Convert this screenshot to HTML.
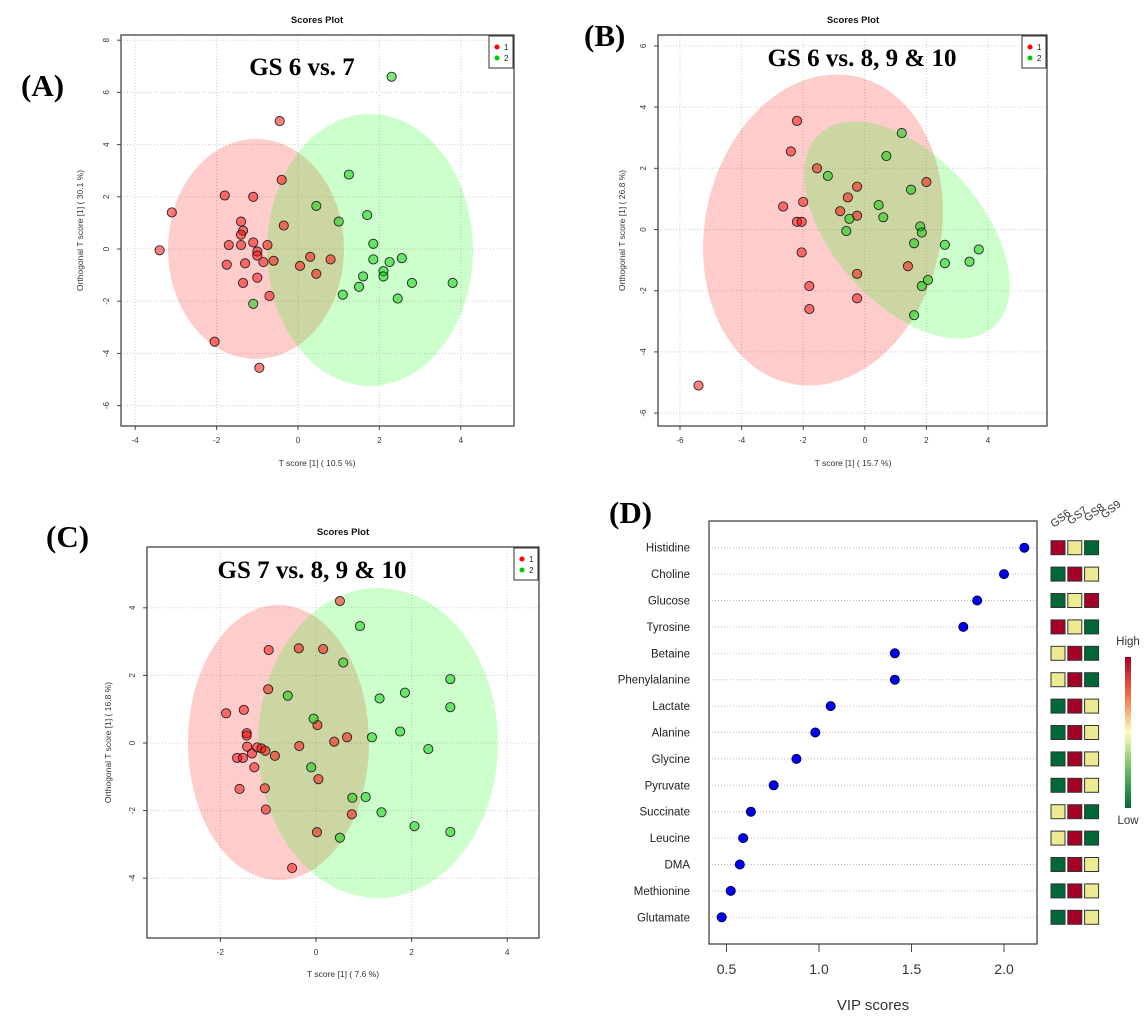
<!DOCTYPE html>
<html><head><meta charset="utf-8"><style>
html,body{margin:0;padding:0;background:#fff;}
svg{display:block;font-family:"Liberation Sans",sans-serif;}
.lbl{font-family:"Liberation Serif",serif;font-weight:bold;}
</style></head><body>
<svg id="fig" width="1145" height="1030" viewBox="0 0 1145 1030" xmlns="http://www.w3.org/2000/svg"></svg>
<script>
// ---- Panel A data ----
const aRedX=[-3.4,-3.1,-2.05,-1.8,-1.7,-1.75,-1.4,-1.35,-1.4,-1.4,-1.3,-1.35,-1.1,-1.1,-1,-1,-1,-0.95,-0.85,-0.75,-0.7,-0.6,-0.45,-0.4,-0.35,0.05,0.3,0.45,0.8];
const aRedY=[-0.05,1.4,-3.55,2.05,0.15,-0.6,1.05,0.7,0.55,0.15,-0.55,-1.3,0.25,2.0,-0.1,-0.25,-1.1,-4.55,-0.5,0.15,-1.8,-0.45,4.9,2.65,0.9,-0.65,-0.3,-0.95,-0.4];
const aGrnX=[-1.1,0.45,1.0,1.1,1.25,1.5,1.6,1.7,1.85,1.85,2.1,2.1,2.25,2.3,2.45,2.55,2.8,3.8];
const aGrnY=[-2.1,1.65,1.05,-1.75,2.85,-1.45,-1.05,1.3,0.2,-0.4,-0.85,-1.05,-0.5,6.6,-1.9,-0.35,-1.3,-1.3];
const aXTicks=[-4,-2,0,2,4];
const aYTicks=[8,6,4,2,0,-2,-4,-6];
// ---- Panel B data ----
const bRedX=[-5.4,-2.65,-2.4,-2.2,-2.2,-2.05,-2.0,-2.05,-1.8,-1.8,-1.55,-0.8,-0.55,-0.25,-0.25,-0.25,-0.25,1.4,2.0];
const bRedY=[-5.1,0.75,2.55,3.55,0.25,0.25,0.9,-0.75,-1.85,-2.6,2.0,0.6,1.05,1.4,0.45,-1.45,-2.25,-1.2,1.55];
const bGrnX=[-1.2,-0.6,-0.5,0.45,0.6,0.7,1.2,1.5,1.6,1.6,1.8,1.85,1.85,2.05,2.6,2.6,3.4,3.7];
const bGrnY=[1.75,-0.05,0.35,0.8,0.4,2.4,3.15,1.3,-0.45,-2.8,0.1,-0.1,-1.85,-1.65,-0.5,-1.1,-1.05,-0.65];
const bXTicks=[-6,-4,-2,0,2,4];
const bYTicks=[6,4,2,0,-2,-4,-6];
// ---- Panel C data ----
const cRedX=[-1.88,-1.51,-1.45,-1.45,-1.44,-1.34,-1.29,-1.23,-1.14,-1.06,-0.86,-1.07,-1.05,-0.99,-1.0,-1.65,-1.53,-1.6,-0.5,-0.36,-0.35,0.15,0.03,0.05,0.02,0.38,0.65,0.75,0.5];
const cRedY=[0.88,0.98,0.29,0.22,-0.11,-0.31,-0.72,-0.13,-0.16,-0.23,-0.38,-1.34,-1.97,2.75,1.59,-0.44,-0.44,-1.36,-3.7,2.8,-0.09,2.78,0.53,-1.07,-2.64,0.04,0.17,-2.11,4.2];
const cGrnX=[-0.59,-0.05,-0.1,0.57,0.92,0.76,1.04,1.17,1.33,1.37,1.76,1.86,2.06,2.35,2.81,2.81,2.81,0.5];
const cGrnY=[1.4,0.72,-0.72,2.38,3.46,-1.62,-1.6,0.17,1.32,-2.05,0.34,1.49,-2.46,-0.18,1.89,1.06,-2.63,-2.8];
const cXTicks=[-2,0,2,4];
const cYTicks=[4,2,0,-2,-4];
// ---- Panel D data ----
const dNames=["Histidine","Choline","Glucose","Tyrosine","Betaine","Phenylalanine","Lactate","Alanine","Glycine","Pyruvate","Succinate","Leucine","DMA","Methionine","Glutamate"];
const dVip=[2.11,2.0,1.855,1.78,1.41,1.41,1.063,0.98,0.878,0.755,0.632,0.59,0.572,0.523,0.474];
const dHeat=["RYG","GRY","GYR","RYG","YRG","YRG","GRY","GRY","GRY","GRY","YRG","YRG","GRY","GRY","GRY"];
const dCols=["GS6","GS7","GS8","GS9"];
const dXTicks=[0.5,1.0,1.5,2.0];

const NS="http://www.w3.org/2000/svg";
const svg=document.getElementById('fig');
function mk(tag,attrs,parent,text){const e=document.createElementNS(NS,tag);for(const k in attrs)e.setAttribute(k,attrs[k]);if(text!==undefined)e.textContent=text;(parent||svg).appendChild(e);return e;}

function scorePanel(p){
  const g=mk('g',{});
  
  
  const sx=v=>p.x0+v*p.kx, sy=v=>p.y0-v*p.ky;
  // grid
  p.xt.forEach(t=>{const l=mk('line',{x1:sx(t),x2:sx(t),y1:p.top,y2:p.bot,stroke:'#ccc','stroke-dasharray':'1,2'},g);});
  p.yt.forEach(t=>{const l=mk('line',{x1:p.left,x2:p.right,y1:sy(t),y2:sy(t),stroke:'#ccc','stroke-dasharray':'1,2'},g);});
  // ellipses
  p.ell.forEach(e=>{const el=mk('ellipse',{cx:e.cx,cy:e.cy,rx:e.rx,ry:e.ry,fill:e.c,'fill-opacity':0.2,transform:`rotate(${e.r||0} ${e.cx} ${e.cy})`},g);
    
    });
  // points
  const drawPts=(X,Y,col,nm)=>X.forEach((x,i)=>{const c=mk('circle',{cx:sx(x),cy:sy(Y[i]),r:4.6,fill:col,'fill-opacity':0.5,stroke:'#222','stroke-width':0.9},g);
    
    });
  drawPts(p.rx,p.ry,'#ff0000','point-group-1');
  drawPts(p.gx,p.gy,'#00cc00','point-group-2');
  // box
  mk('rect',{x:p.left,y:p.top,width:p.right-p.left,height:p.bot-p.top,fill:'none',stroke:'#444','stroke-width':1.3},g);
  // ticks
  p.xt.forEach(t=>{mk('line',{x1:sx(t),x2:sx(t),y1:p.bot,y2:p.bot+4,stroke:'#444'},g);
    const tx=mk('text',{x:sx(t),y:p.bot+17,'font-size':8,'text-anchor':'middle',fill:'#333'},g,String(t));
    
    });
  p.yt.forEach(t=>{mk('line',{x1:p.left-4,x2:p.left,y1:sy(t),y2:sy(t),stroke:'#444'},g);
    const ty=mk('text',{x:p.left-12,y:sy(t),'font-size':8,'text-anchor':'middle',fill:'#333',transform:`rotate(-90 ${p.left-12} ${sy(t)})`},g,String(t));
    
    });
  // titles
  const st=mk('text',{x:p.tx,y:p.ty,'font-size':9.5,'font-weight':'bold','text-anchor':'middle',fill:'#111'},g,'Scores Plot');
  
  
  const xl=mk('text',{x:p.tx,y:p.xly,'font-size':8.5,'text-anchor':'middle',fill:'#333'},g,p.xl);
  
  
  const yl=mk('text',{x:p.ylx,y:(p.top+p.bot)/2,'font-size':8.5,'text-anchor':'middle',fill:'#333',transform:`rotate(-90 ${p.ylx} ${(p.top+p.bot)/2})`},g,p.yl);
  
  
  const cm=mk('text',{x:p.cx,y:p.cy,'font-size':25,'text-anchor':'middle',class:'lbl',fill:'#000'},g,p.comp);
  
  
  const pl=mk('text',{x:p.px,y:p.py,'font-size':31,class:'lbl',fill:'#000'},g,p.plab);
  
  
  // legend
  const lg=mk('g',{},g);
  
  
  mk('rect',{x:p.right-25,y:p.top+1,width:24,height:32,fill:'#fff',stroke:'#333'},lg);
  mk('circle',{cx:p.right-17,cy:p.top+12,r:2.5,fill:'#f00'},lg);
  mk('circle',{cx:p.right-17,cy:p.top+23,r:2.5,fill:'#0c0'},lg);
  mk('text',{x:p.right-10,y:p.top+15,'font-size':8,fill:'#222'},lg,'1');
  mk('text',{x:p.right-10,y:p.top+26,'font-size':8,fill:'#222'},lg,'2');
}

scorePanel({name:'panel-a',left:121,right:514,top:35,bot:426,x0:298,kx:40.7,y0:249,ky:26.1,xt:aXTicks,yt:aYTicks,
  ell:[{cx:256,cy:249,rx:88,ry:110,c:'#ff0000',n:'ellipse-group-1'},{cx:370,cy:250,rx:103,ry:136,c:'#00ff00',n:'ellipse-group-2'}],
  rx:aRedX,ry:aRedY,gx:aGrnX,gy:aGrnY,tx:317,ty:23,xly:466,xl:'T score [1] ( 10.5 %)',ylx:83,yl:'Orthogonal T score [1] ( 30.1 %)',
  comp:'GS 6 vs. 7',cx:302,cy:75,plab:'(A)',px:21,py:96});
scorePanel({name:'panel-b',left:658,right:1047,top:35,bot:426,x0:864.8,kx:30.8,y0:229.5,ky:30.6,xt:bXTicks,yt:bYTicks,
  ell:[{cx:823,cy:230,rx:118,ry:157,r:12,c:'#ff0000',n:'ellipse-group-1'},{cx:907,cy:230,rx:130,ry:74,r:48,c:'#00ff00',n:'ellipse-group-2'}],
  rx:bRedX,ry:bRedY,gx:bGrnX,gy:bGrnY,tx:853,ty:23,xly:466,xl:'T score [1] ( 15.7 %)',ylx:625,yl:'Orthogonal T score [1] ( 26.8 %)',
  comp:'GS 6 vs. 8, 9 & 10',cx:862,cy:66,plab:'(B)',px:584,py:46});
scorePanel({name:'panel-c',left:147,right:539,top:547,bot:938,x0:316,kx:47.8,y0:743,ky:33.8,xt:cXTicks,yt:cYTicks,
  ell:[{cx:278.5,cy:742.5,rx:90.5,ry:137.5,c:'#ff0000',n:'ellipse-group-1'},{cx:378,cy:743,rx:120,ry:155,c:'#00ff00',n:'ellipse-group-2'}],
  rx:cRedX,ry:cRedY,gx:cGrnX,gy:cGrnY,tx:343,ty:535,xly:977,xl:'T score [1] ( 7.6 %)',ylx:111,yl:'Orthogonal T score [1] ( 16.8 %)',
  comp:'GS 7 vs. 8, 9 & 10',cx:312,cy:578,plab:'(C)',px:46,py:547});

// ---- Panel D ----
(function(){
  const g=mk('g',{});
  
  
  const L=709,R=1037,T=521,B=944;
  const sx=v=>634+v*185, rowY=i=>547.7+i*26.4;
  const pl=mk('text',{x:609,y:523,'font-size':31,class:'lbl',fill:'#000'},g,'(D)');
  
  
  dNames.forEach((n,i)=>{
    mk('line',{x1:L,x2:R,y1:rowY(i),y2:rowY(i),stroke:'#bbb','stroke-dasharray':'1,2'},g);
    const t=mk('text',{x:690,y:rowY(i)+4,'font-size':11.5,'text-anchor':'end',fill:'#222'},g,n);
    
    
    const c=mk('circle',{cx:sx(dVip[i]),cy:rowY(i),r:4.6,fill:'#0000ee',stroke:'#000033','stroke-width':0.8},g);
    
    
    const colMap={R:'#a50026',Y:'#eeea92',G:'#006837'};
    dHeat[i].split('').forEach((ch,j)=>{
      const r=mk('rect',{x:1051+j*16.8,y:rowY(i)-7,width:14,height:14,fill:colMap[ch],stroke:'#333','stroke-width':1},g);
      
      
    });
  });
  mk('rect',{x:L,y:T,width:R-L,height:B-T,fill:'none',stroke:'#444','stroke-width':1.3},g);
  dXTicks.forEach(t=>{
    mk('line',{x1:sx(t),x2:sx(t),y1:B,y2:B+8,stroke:'#444'},g);
    const tx=mk('text',{x:sx(t),y:B+30,'font-size':14,'text-anchor':'middle',fill:'#333'},g,t.toFixed(1));
    
    
  });
  const xl=mk('text',{x:873,y:1010,'font-size':15,'text-anchor':'middle',fill:'#333'},g,'VIP scores');
  
  
  dCols.forEach((c,j)=>{
    const x=1054+j*16.8,y=528-j*3;
    const t=mk('text',{x:x,y:y,'font-size':11,fill:'#333',transform:`rotate(-38 ${x} ${y})`},g,c);
    
    
  });
  const defs=mk('defs',{},g);
  const lgd=mk('linearGradient',{id:'cb',x1:0,y1:0,x2:0,y2:1},defs);
  [['0','#a50026'],['0.25','#f46d43'],['0.5','#ffffbf'],['0.75','#66bd63'],['1','#006837']].forEach(s=>mk('stop',{offset:s[0],'stop-color':s[1]},lgd));
  const cb=mk('rect',{x:1125,y:657,width:6,height:151,fill:'url(#cb)'},g);
  
  
  const hi=mk('text',{x:1128,y:645,'font-size':11.5,'text-anchor':'middle',fill:'#333'},g,'High');
  
  
  const lo=mk('text',{x:1128,y:824,'font-size':11.5,'text-anchor':'middle',fill:'#333'},g,'Low');
  
  
})();
</script>
</body></html>
